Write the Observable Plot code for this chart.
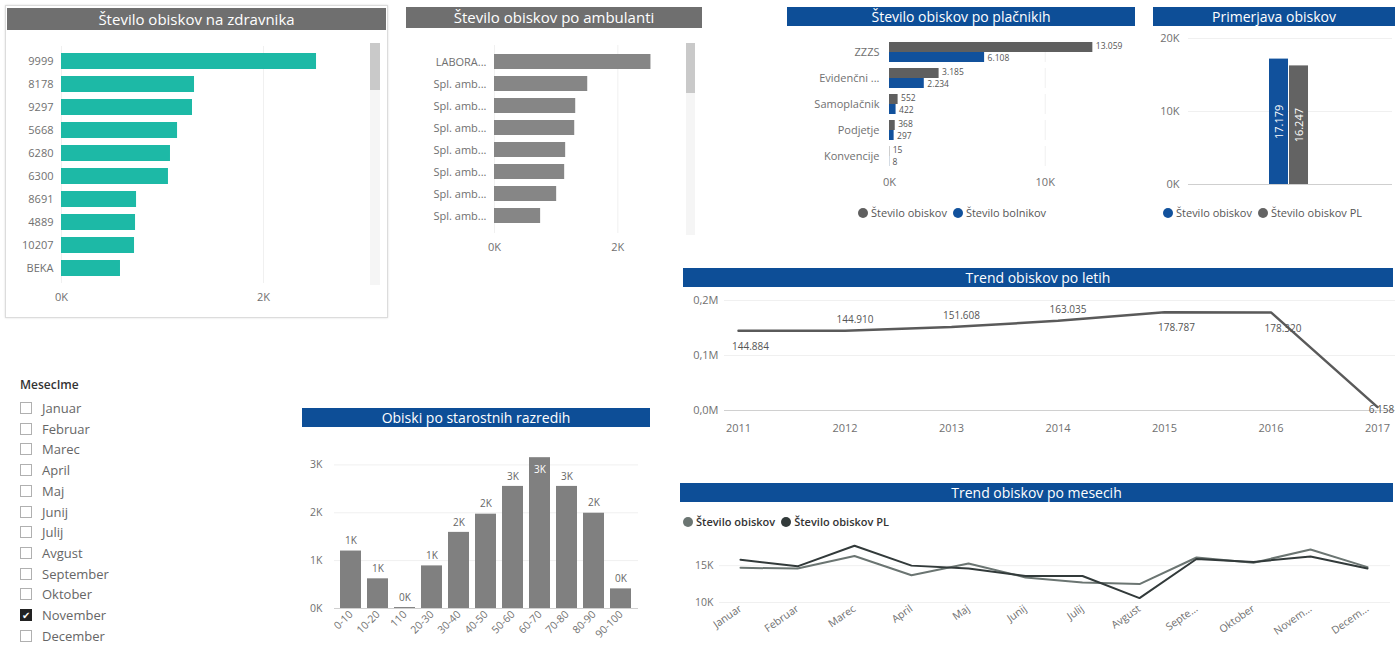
<!DOCTYPE html>
<html><head><meta charset="utf-8">
<script src="https://cdn.jsdelivr.net/npm/d3@7"></script>
<script src="https://cdn.jsdelivr.net/npm/@observablehq/plot@0.6"></script>
<style>
body{margin:0;width:1400px;height:646px;background:#fff;position:relative;overflow:hidden;font-family:"Open Sans","Noto Sans",sans-serif;}
.hdr{position:absolute;color:#fff;text-align:center;white-space:nowrap;overflow:hidden;box-sizing:border-box;}
.grey{background:#6f6f6f;}
.blue{background:#0d4e97;}
.legend{position:absolute;font-size:11px;color:#555;white-space:nowrap;display:flex;align-items:center;}
.dot{display:inline-block;width:10px;height:10px;border-radius:50%;margin-right:3px;margin-left:6px;}
.box{position:absolute;box-sizing:border-box;}
.sl-item{position:absolute;left:20px;font-size:13px;color:#666;display:flex;align-items:center;}
.cb{width:12px;height:12px;border:1px solid #b0b0b0;margin-right:10px;box-sizing:border-box;display:flex;align-items:center;justify-content:center;font-size:10px;color:#fff;line-height:1;}
.cb.on{background:#222;border-color:#222;}
</style></head><body>
<script>
// ---------- DATA ----------
const zdravniki = ["9999","8178","9297","5668","6280","6300","8691","4889","10207","BEKA"];
const zdravnikiObiski = [2525,1317,1297,1149,1079,1059,743,733,723,584];

const ambulanteOznake = ["LABORA...","Spl. amb...","Spl. amb...","Spl. amb...","Spl. amb...","Spl. amb...","Spl. amb...","Spl. amb..."];
const ambulanteObiski = [2537,1512,1317,1301,1154,1138,1008,748];

const placniki = ["ZZZS","Evidenčni ...","Samoplačnik","Podjetje","Konvencije"];
const placnikiSerije = ["Število obiskov","Število bolnikov"];
const placnikiObiski = [13059,3185,552,368,15];
const placnikiBolniki = [6108,2234,422,297,8];

const primerjavaSerije = ["Število obiskov","Število obiskov PL"];
const primerjavaVrednosti = [17179,16247];

const leta = [2011,2012,2013,2014,2015,2016,2017];
const letaObiski = [144884,144910,151608,163035,178787,178320,6158];

const meseci = ["Januar","Februar","Marec","April","Maj","Junij","Julij","Avgust","September","Oktober","November","December"];
const izbraniMesec = "November";
const mesecSerije = ["Število obiskov","Število obiskov PL"];
const mesecObiski = [14700,14600,16300,13700,15300,13400,12700,12500,16100,15400,17179,14800];
const mesecObiskiPL = [15800,14900,17700,15000,14600,13600,13600,10600,15900,15500,16247,14600];

const razredi = ["0-10","10-20","110","20-30","30-40","40-50","50-60","60-70","70-80","80-90","90-100"];
const razrediObiski = [1200,620,20,890,1590,1970,2550,3150,2550,1990,410];

// ---------- HELPERS ----------
const fmt = d3.formatLocale({decimal:",", thousands:".", grouping:[3], currency:["","€"]}).format(",d");
const kFmt = d => d/1000 + "K";
const FONT = '"Open Sans","Noto Sans",sans-serif';
const st = (extra={}) => Object.assign({fontFamily:FONT, fontSize:"11px", color:"#707070", background:"transparent", overflow:"visible"}, extra);
function place(el, left, top){ el.style.position="absolute"; el.style.left=left+"px"; el.style.top=top+"px"; document.body.appendChild(el); return el; }
function div(cls, css, html){ const d=document.createElement("div"); d.className=cls; Object.assign(d.style, css); if(html!==undefined) d.innerHTML=html; document.body.appendChild(d); return d; }
function hdr(text, l, t, w, h, cls, fs){ div("hdr "+cls, {left:l+"px", top:t+"px", width:w+"px", height:h+"px", lineHeight:h+"px", fontSize:fs+"px"}, text); }
function legend(l, t, items, css={}){ const d=div("legend", Object.assign({left:l+"px", top:t+"px"}, css)); d.innerHTML = items.map(([c,txt])=>`<span class="dot" style="background:${c}"></span><span>${txt}</span>`).join(""); }

const TEAL="#1db9a6", BLUE="#11519c", DGREY="#5f5f5f", MGREY="#808080";

// ---------- PANEL 1: Število obiskov na zdravnika ----------
div("box", {left:"5px", top:"5px", width:"383px", height:"313px", border:"1px solid #dcdcdc", boxShadow:"0 0 2px #ddd"});
div("box", {left:"370px", top:"43px", width:"10px", height:"242px", background:"#f5f5f5"});
div("box", {left:"370px", top:"43px", width:"10px", height:"47px", background:"#c9c9c9"});
{
  const data = zdravniki.map((k,i)=>({k, v:zdravnikiObiski[i]}));
  place(Plot.plot({
    width:390, height:320, marginLeft:61, marginRight:26, marginTop:46, marginBottom:37,
    style: st(),
    x:{domain:[0,3000], ticks:[0,2000], tickFormat:kFmt, grid:true, label:null, tickSize:0, tickPadding:10},
    y:{domain:zdravniki, padding:0.3, label:null, tickSize:0, tickPadding:8},
    marks:[Plot.barX(data, {x:"v", y:"k", fill:TEAL})]
  }), 0, 0);
}
hdr("Število obiskov na zdravnika", 7, 8, 379, 22, "grey", 15);

// ---------- PANEL 2: Število obiskov po ambulanti ----------
div("box", {left:"686px", top:"43px", width:"9px", height:"192px", background:"#f5f5f5"});
div("box", {left:"686px", top:"43px", width:"9px", height:"50px", background:"#c9c9c9"});
{
  const idx = d3.range(ambulanteObiski.length);
  const data = idx.map(i=>({i, v:ambulanteObiski[i]}));
  place(Plot.plot({
    width:310, height:260, marginLeft:94, marginRight:31, marginTop:45, marginBottom:27,
    style: st(),
    x:{domain:[0,3000], ticks:[0,2000], tickFormat:kFmt, grid:true, label:null, tickSize:0, tickPadding:10},
    y:{domain:idx, padding:0.3, label:null, tickSize:0, tickPadding:8, tickFormat:i=>ambulanteOznake[i]},
    marks:[Plot.barX(data, {x:"v", y:"i", fill:"#868686"})]
  }), 400, 0);
}
hdr("Število obiskov po ambulanti", 406, 7, 296, 21, "grey", 15);

// ---------- PANEL 3: Število obiskov po plačnikih ----------
{
  const data = placniki.flatMap((p,i)=>[
    {p, s:placnikiSerije[0], v:placnikiObiski[i]},
    {p, s:placnikiSerije[1], v:placnikiBolniki[i]}
  ]);
  place(Plot.plot({
    width:360, height:230, marginLeft:104, marginRight:38, marginTop:40, marginBottom:61,
    style: st(),
    facet:{data, y:"p"},
    fy:{domain:placniki, padding:0.22, label:null, axis:"left", tickSize:0, tickPadding:10},
    x:{domain:[0,14000], ticks:[0,10000], tickFormat:kFmt, grid:true, label:null, tickSize:0, tickPadding:12},
    y:{domain:placnikiSerije, axis:null, padding:0},
    color:{domain:placnikiSerije, range:[DGREY, BLUE]},
    marks:[
      Plot.barX(data, {x:"v", y:"s", fill:"s"}),
      Plot.text(data, {filter:d=>d.s===placnikiSerije[0], x:"v", y:"s", text:d=>fmt(d.v), textAnchor:"start", dx:3, dy:-1, fill:"#555", fontSize:8.5}),
      Plot.text(data, {filter:d=>d.s===placnikiSerije[1], x:"v", y:"s", text:d=>fmt(d.v), textAnchor:"start", dx:3, dy:1, fill:"#555", fontSize:8.5})
    ]
  }), 785, 0);
}
hdr("Število obiskov po plačnikih", 787, 7, 348, 19, "blue", 14);
legend(852, 205, [[DGREY, placnikiSerije[0]], [BLUE, placnikiSerije[1]]]);

// ---------- PANEL 4: Primerjava obiskov ----------
{
  const data = primerjavaSerije.map((s,i)=>({s, v:primerjavaVrednosti[i]}));
  place(Plot.plot({
    width:255, height:230, marginLeft:43, marginRight:8, marginTop:38, marginBottom:46,
    style: st(),
    x:{domain:primerjavaSerije, axis:null, padding:0.04, insetLeft:80, insetRight:82},
    y:{domain:[0,20000], ticks:[0,10000,20000], tickFormat:kFmt, grid:true, label:null, tickSize:0, tickPadding:9},
    color:{domain:primerjavaSerije, range:[BLUE, "#636363"]},
    marks:[
      Plot.ruleY([0], {stroke:"#cfcfcf"}),
      Plot.barY(data, {x:"s", y:"v", fill:"s"}),
      Plot.text(data, {x:"s", y:d=>d.v/2, text:d=>fmt(d.v), rotate:-90, fill:"#fff", fontSize:11})
    ]
  }), 1145, 0);
}
hdr("Primerjava obiskov", 1153, 7, 242, 19, "blue", 14);
legend(1157, 205, [[BLUE, primerjavaSerije[0]], ["#636363", primerjavaSerije[1]]]);

// ---------- PANEL 5: Trend obiskov po letih ----------
{
  const data = leta.map((l,i)=>({l, v:letaObiski[i]}));
  const isLast = d => d.l === leta[leta.length-1];
  const below = d => d.l === leta[0] || d.v > 170000;
  place(Plot.plot({
    width:720, height:180, marginLeft:44, marginRight:5, marginTop:35, marginBottom:35,
    style: st(),
    x:{domain:[leta[0], leta[leta.length-1]], ticks:leta, tickFormat:d=>String(d), label:null, tickSize:0, tickPadding:14, insetLeft:14, insetRight:18},
    y:{domain:[0,200000], ticks:[0,100000,200000], tickFormat:d=>(d/1e6).toFixed(1).replace(".",",")+"M", grid:true, label:null, tickSize:0, tickPadding:6},
    marks:[
      Plot.ruleY([0], {stroke:"#d0d0d0"}),
      Plot.line(data, {x:"l", y:"v", stroke:"#5a5a5a", strokeWidth:2.5}),
      Plot.text(data, {filter:d=>!isLast(d) && !below(d), x:"l", y:"v", text:d=>fmt(d.v), dx:10, dy:-11, fill:"#555", fontSize:10}),
      Plot.text(data, {filter:d=>!isLast(d) && below(d), x:"l", y:"v", text:d=>fmt(d.v), dx:12, dy:16, fill:"#555", fontSize:10}),
      Plot.text(data, {filter:isLast, x:"l", y:"v", text:d=>fmt(d.v), dx:4, dy:3, fill:"#555", fontSize:10})
    ]
  }), 680, 265);
}
hdr("Trend obiskov po letih", 683, 268, 710, 19, "blue", 14);

// ---------- PANEL 6: slicer ----------
div("box", {left:"20px", top:"376px", fontSize:"12px", color:"#333", fontWeight:"600"}, "MesecIme");
meseci.forEach((m,i)=>{
  const on = m === izbraniMesec;
  div("sl-item", {top:(400 + i*20.7)+"px", height:"16px"}, `<span class="cb${on?" on":""}">${on?"✔":""}</span><span>${m}</span>`);
});

// ---------- PANEL 7: Obiski po starostnih razredih ----------
{
  const data = razredi.map((r,i)=>({r, v:razrediObiski[i]}));
  const inside = d => d.v > 3000;
  const lbl = d => Math.round(d.v/1000) + "K";
  place(Plot.plot({
    width:360, height:216, marginLeft:39, marginRight:17, marginTop:20, marginBottom:38,
    style: st({fontSize:"10.5px"}),
    x:{domain:razredi, padding:0.22, label:null, tickSize:0, tickPadding:4, tickRotate:-45},
    y:{domain:[0,3300], ticks:[0,1000,2000,3000], tickFormat:kFmt, grid:true, label:null, tickSize:0, tickPadding:12},
    marks:[
      Plot.ruleY([0], {stroke:"#d0d0d0"}),
      Plot.barY(data, {x:"r", y:"v", fill:MGREY}),
      Plot.text(data, {filter:d=>!inside(d), x:"r", y:"v", text:lbl, dy:-10, fill:"#666", fontSize:10}),
      Plot.text(data, {filter:inside, x:"r", y:"v", text:lbl, dy:12, fill:"#fff", fontSize:10})
    ]
  }), 295, 430);
}
hdr("Obiski po starostnih razredih", 302, 408, 348, 19, "blue", 14);

// ---------- PANEL 8: Trend obiskov po mesecih ----------
{
  const data = meseci.flatMap((m,i)=>[
    {m, s:mesecSerije[0], v:mesecObiski[i]},
    {m, s:mesecSerije[1], v:mesecObiskiPL[i]}
  ]);
  place(Plot.plot({
    width:725, height:116, marginLeft:44, marginRight:10, marginTop:13, marginBottom:44,
    style: st({fontSize:"10.5px"}),
    x:{type:"point", domain:meseci, padding:0, insetLeft:19, insetRight:22, label:null, tickSize:0, tickPadding:5, tickRotate:-35,
       tickFormat:m=>m.length>7 ? m.slice(0,5)+"..." : m},
    y:{domain:[10000,18000], ticks:[10000,15000], tickFormat:kFmt, grid:true, label:null, tickSize:0, tickPadding:6},
    color:{domain:mesecSerije, range:["#6b7572","#323a3a"]},
    marks:[
      Plot.line(data, {x:"m", y:"v", stroke:"s", strokeWidth:2})
    ]
  }), 675, 530);
}
hdr("Trend obiskov po mesecih", 680, 483, 713, 19, "blue", 14);
legend(677, 514, [["#6b7572", mesecSerije[0]], ["#323a3a", mesecSerije[1]]], {color:"#333", fontWeight:"600"});
</script>
</body></html>
